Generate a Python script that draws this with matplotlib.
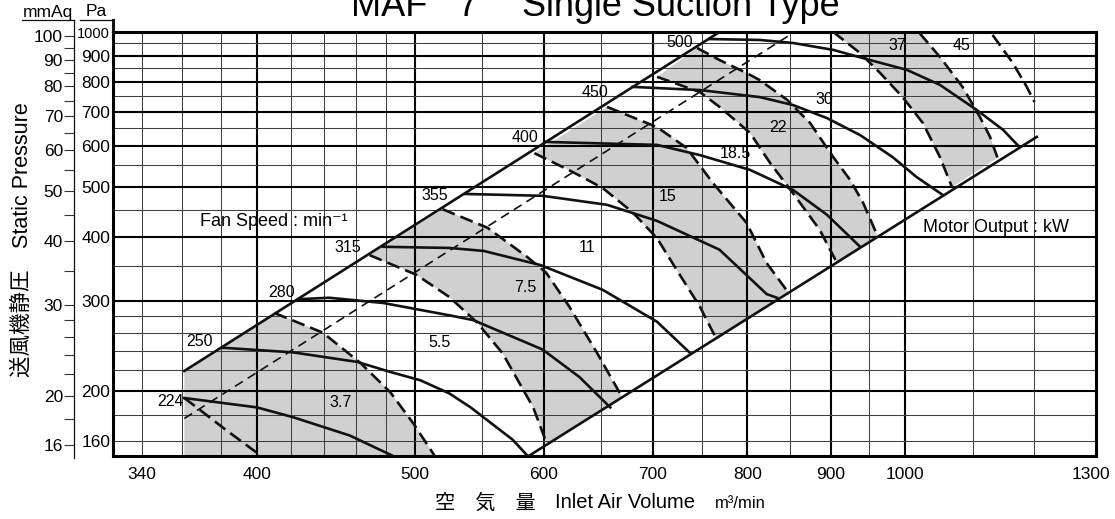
import matplotlib.pyplot as plt
from matplotlib import font_manager
from matplotlib.lines import Line2D
from matplotlib.ticker import NullLocator, NullFormatter

plt.rcParams['font.family'] = ['Liberation Sans', 'Noto Sans CJK JP', 'DejaVu Sans']

# ---- chart data: inlet air volume (m3/min) vs static pressure (Pa) ----
upper_q = [361, 769]      # left (surge side) limit line
upper_p = [219, 1000]
lower_q = [588, 1204]     # right limit line
lower_p = [150, 625]
best_q = [361, 855]       # thin dashed line
best_p = [177, 1000]

speeds = ['224', '250', '280', '315', '355', '400', '450', '500']
speed_q = [
    [361, 400, 421, 456, 484],
    [381, 421, 461, 483, 504, 525, 541, 574, 586],
    [424, 443, 478, 525, 543, 599, 631, 659],
    [478, 525, 551, 597, 652, 704, 737],
    [537, 599, 656, 704, 769, 822, 834],
    [602, 704, 748, 803, 853, 895, 938],
    [680, 748, 814, 853, 895, 938, 982, 1016, 1054],
    [758, 814, 853, 903, 951, 1002, 1050, 1106, 1148, 1175],
]
speed_p = [
    [194, 186, 178, 164, 150],
    [243, 238, 228, 218, 210, 198, 186, 161, 150],
    [302, 304, 297, 281, 275, 241, 213, 186],
    [382, 380, 375, 352, 315, 273, 238],
    [484, 480, 461, 429, 377, 309, 304],
    [611, 603, 576, 539, 493, 441, 382],
    [782, 771, 747, 721, 680, 630, 571, 522, 482],
    [969, 965, 952, 923, 882, 844, 789, 705, 645, 597],
]

# motor output limit lines (dashed), left to right
motors = ['', '3.7', '5.5', '7.5', '11', '15', '18.5', '22', '30', '37', '45']
motor_q = [
    [361, 369, 383, 402],
    [410, 439, 463, 483, 499, 514],
    [469, 501, 525, 546, 566, 591, 603],
    [520, 554, 586, 602, 622, 647, 670],
    [592, 625, 652, 680, 704, 724, 748, 766],
    [656, 704, 734, 762, 799, 822, 847],
    [704, 748, 769, 803, 826, 853, 886, 908],
    [745, 769, 799, 814, 846, 874, 903, 925, 942, 962],
    [903, 938, 965, 996, 1025, 1050, 1068],
    [1020, 1050, 1084, 1111, 1127, 1139],
    [1131, 1164, 1187, 1200],
]
motor_p = [
    [194, 184, 168, 150],
    [284, 260, 227, 199, 173, 150],
    [368, 337, 305, 272, 237, 186, 157],
    [452, 416, 365, 340, 292, 237, 195],
    [581, 534, 497, 446, 397, 344, 292, 252],
    [715, 653, 595, 508, 425, 355, 312],
    [818, 764, 715, 636, 556, 486, 412, 355],
    [931, 882, 832, 806, 738, 665, 571, 515, 465, 399],
    [1000, 910, 832, 747, 665, 571, 499],
    [996, 894, 782, 683, 625, 569],
    [987, 870, 782, 731],
]
# shaded bands: (left dashed line, right dashed line)
bands = [(None, 1), (2, 3), (4, 5), (6, 7), (8, 9)]

x_major = [400, 500, 600, 700, 800, 900, 1000]
x_minor = [340, 360, 380, 420, 440, 460, 480, 550, 650, 750, 850, 950, 1100, 1200]
y_major = [200, 300, 400, 500, 600, 700, 800, 900]
y_minor = [160, 180, 220, 240, 260, 280, 350, 450, 550, 650, 750, 850, 950]
x_ticks = [340, 400, 500, 600, 700, 800, 900, 1000, 1300]
pa_ticks = [160, 200, 300, 400, 500, 600, 700, 800, 900, 1000]
mm_major = [16, 20, 30, 40, 50, 60, 70, 80, 90, 100]
mm_minor = [18, 22, 24, 26, 28, 35, 45, 55, 65, 75, 85, 95]

W, H = 1115, 519
def fx(x):
    return x / W
def fy(y):
    return 1 - y / H

have_narrow = any(f.name == 'Liberation Sans Narrow' for f in font_manager.fontManager.ttflist)
if have_narrow:
    num_font = dict(family='Liberation Sans Narrow', fontsize=13.5)
else:
    num_font = dict(family='Liberation Sans', fontsize=11.5)

fig = plt.figure(figsize=(11.15, 5.19), dpi=100)
ax_rect = [fx(113), fy(456), fx(1096) - fx(113), fy(32) - fy(456)]
ax = fig.add_axes(ax_rect)
ax.set_xscale('log')
ax.set_yscale('log')
ax.set_xlim(326.4, 1309)
ax.set_ylim(149.6, 1000)
ax.xaxis.set_minor_locator(NullLocator())
ax.yaxis.set_minor_locator(NullLocator())
ax.set_xticks(x_ticks, [str(v) for v in x_ticks])
ax.set_yticks(pa_ticks, [str(v) for v in pa_ticks])
ax.tick_params(length=0, labelsize=12.5)
ax.tick_params(axis='x', pad=8)
ax.tick_params(axis='y', pad=2)
for lbl in ax.get_yticklabels():
    if lbl.get_text() == '1000':
        lbl.set_fontsize(10.5)
for s in ax.spines.values():
    s.set_linewidth(2.2)

# grid
for q in x_major:
    ax.axvline(q, color='k', lw=1.5, zorder=2)
for q in x_minor:
    ax.axvline(q, color='#404040', lw=0.75, zorder=2)
for p in y_major:
    ax.axhline(p, color='k', lw=1.5, zorder=2)
for p in y_minor:
    ax.axhline(p, color='#404040', lw=0.75, zorder=2)

# shaded motor bands
gray = '#d0d0d0'
for left, right in bands:
    if left is None:
        q = [upper_q[0], upper_q[0]] + motor_q[right]
        p = [150, upper_p[0]] + motor_p[right]
    else:
        q = motor_q[left] + motor_q[right][::-1]
        p = motor_p[left] + motor_p[right][::-1]
    ax.fill(q, p, color=gray, lw=0, zorder=1)

# limit lines
ax.plot(upper_q, upper_p, color='#111', lw=1.9, zorder=3)
ax.plot(lower_q, lower_p, color='#111', lw=1.9, zorder=3)
ax.plot(best_q, best_p, color='#111', lw=1.2, ls=(0, (5.5, 3.5)), zorder=3)

# fan speed curves
for q, p in zip(speed_q, speed_p):
    ax.plot(q, p, color='#111', lw=1.9, zorder=3)

# motor output limits
for q, p in zip(motor_q, motor_p):
    ax.plot(q, p, color='#111', lw=1.9, ls=(0, (5, 2.3)), zorder=3)

# curve labels
speed_pos = [(354, 191), (369, 250), (414, 311), (455, 380), (514, 480),
             (584, 622), (645, 764), (727, 952)]
for txt, (q, p) in zip(speeds, speed_pos):
    ax.text(q, p, txt, ha='center', va='center', zorder=4, **num_font)
motor_pos = [None, (450, 190), (518, 249), (584, 319), (638, 380), (715, 478),
             (786, 581), (835, 653), (892, 738), (989, 943), (1083, 943)]
for txt, pos in zip(motors, motor_pos):
    if pos:
        ax.text(pos[0], pos[1], txt, ha='center', va='center', zorder=4, **num_font)

ax.text(369, 427, 'Fan Speed : min\u207b\u00b9', ha='left', va='center', fontsize=13, zorder=4)
ax.text(1025, 417, 'Motor Output : kW', ha='left', va='center', fontsize=13, zorder=4)

# mmAq scale
ax2 = fig.add_axes([fx(74), ax_rect[1], 1e-4, ax_rect[3]])
ax2.set_yscale('log')
ax2.set_ylim(149.6 / 9.80665, 1000 / 9.80665)
for s in ax2.spines.values():
    s.set_visible(False)
ax2.patch.set_visible(False)
ax2.set_xticks([])
ax2.set_yticks(mm_major, [str(v) for v in mm_major])
ax2.set_yticks(mm_minor, minor=True)
ax2.yaxis.set_minor_formatter(NullFormatter())
ax2.tick_params(axis='y', which='both', direction='out', length=7, width=0.8,
                color='#333', pad=1, labelsize=12.5)

# header / frame lines outside the axes
def fig_line(x0, y0, x1, y1, lw):
    fig.add_artist(Line2D([fx(x0), fx(x1)], [fy(y0), fy(y1)], color='#111', lw=lw))

fig_line(74, 20, 74, 458, 0.9)
fig_line(113, 20, 113, 33, 2.2)
fig_line(22, 20, 74, 20, 0.9)
fig_line(80, 20, 113, 20, 0.9)
fig.text(fx(48), fy(12), 'mmAq', ha='center', va='center', fontsize=12.5)
fig.text(fx(96), fy(12), 'Pa', ha='center', va='center', fontsize=12.5)

# titles and axis labels
fig.text(fx(427), fy(16), 'MAF', ha='right', va='baseline', fontsize=26)
fig.text(fx(467), fy(16), '7', ha='center', va='baseline', fontsize=26)
fig.text(fx(522), fy(16), 'Single Suction Type', ha='left', va='baseline', fontsize=26)

fig.text(fx(22), fy(240), '送風機静圧\u3000Static Pressure', rotation=90,
         ha='center', va='center', fontsize=15.5)
fig.text(fx(435), fy(503), '空\u3000気\u3000量', ha='left', va='center', fontsize=14.5)
fig.text(fx(555), fy(503), 'Inlet Air Volume', ha='left', va='center', fontsize=14.5)
fig.text(fx(715), fy(503), 'm\u00b3/min', ha='left', va='center', fontsize=12)

fig.savefig('out.png', dpi=100)
